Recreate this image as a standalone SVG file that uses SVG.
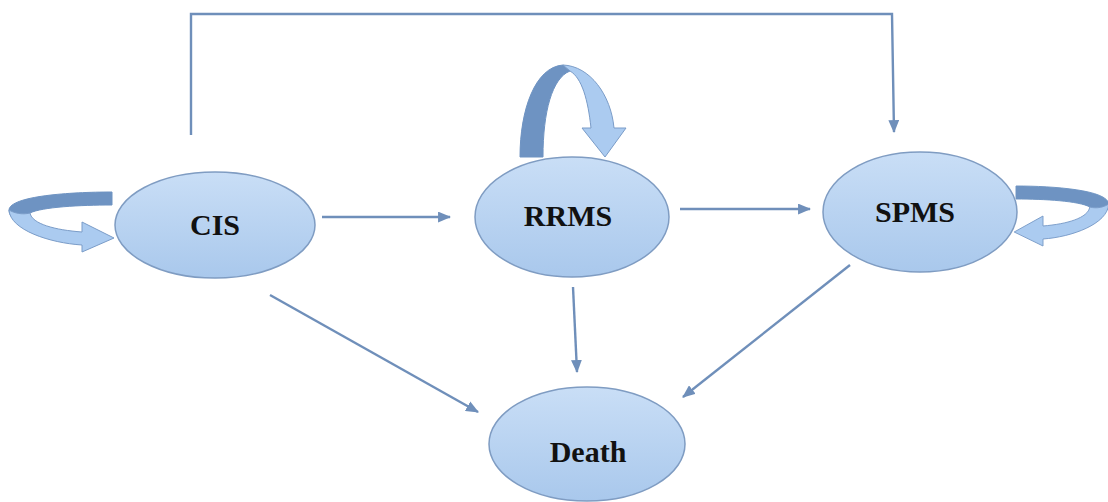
<svg xmlns="http://www.w3.org/2000/svg" width="1108" height="502" viewBox="0 0 1108 502">
<defs>
<linearGradient id="fill" x1="0" y1="0" x2="0" y2="1">
<stop offset="0" stop-color="#c9def6"/>
<stop offset="1" stop-color="#a9c8ec"/>
</linearGradient>
<marker id="ah" viewBox="0 0 12 10" refX="11" refY="5" markerWidth="13" markerHeight="11" markerUnits="userSpaceOnUse" orient="auto">
<path d="M0,0 L12,5 L0,10 Z" fill="#6f8fba"/>
</marker>
</defs>
<style>
.node ellipse{fill:url(#fill);stroke:#7f9cc2;stroke-width:1.5}
.node text{font-family:"Liberation Serif","Times New Roman",serif;font-weight:bold;font-size:30px;fill:#111;text-anchor:middle}
.conn{fill:none;stroke:#6f8fba;stroke-width:2.4}
.dark{fill:#6e93c2;stroke:#6e93c2;stroke-width:1}
.light{fill:#abcbf0;stroke:#7a9cc8;stroke-width:1}
</style>
<g id="connectors">
<path class="conn" d="M191,135 L191,14 L892,14 L894,132" marker-end="url(#ah)"/>
<path class="conn" d="M322,217 L450,217" marker-end="url(#ah)"/>
<path class="conn" d="M680,209 L810,209" marker-end="url(#ah)"/>
<path class="conn" d="M573,287 L577,372" marker-end="url(#ah)"/>
<path class="conn" d="M270,295 L478,412" marker-end="url(#ah)"/>
<path class="conn" d="M850,265 L683,397" marker-end="url(#ah)"/>
</g>
<g id="loop-cis">
<path class="dark" d="M112,192 C70,192 10,196 9,210 C9,216 14,220 22,223 L36,222 C28,219 26,216 30,213 C42,207 80,205 112,205 Z"/>
<path class="light" d="M9,210 C10,230 50,243 82,245 L82,252 L114,238 L82,222 L82,232 C55,230 32,224 30,213 C22,215 14,213 9,210 Z"/>
</g>
<g id="loop-rrms">
<path class="dark" d="M520,157 C520,110 535,67 563,65 L570,71 C552,78 543,112 543,157 Z"/>
<path class="light" d="M563,65 C590,66 611,95 614,128 L626,128 L605,157 L582,128 L591,128 C588,100 582,78 570,71 Z"/>
</g>
<g id="loop-spms" transform="translate(1116.8,-6) scale(-0.9,1)">
<path class="dark" d="M112,192 C70,192 10,196 9,210 C9,216 14,220 22,223 L36,222 C28,219 26,216 30,213 C42,207 80,205 112,205 Z"/>
<path class="light" d="M9,210 C10,230 50,243 82,245 L82,252 L114,238 L82,222 L82,232 C55,230 32,224 30,213 C22,215 14,213 9,210 Z"/>
</g>
<g id="node-cis" class="node">
<ellipse cx="215" cy="225" rx="100" ry="53"/>
<text x="215" y="235">CIS</text>
</g>
<g id="node-rrms" class="node">
<ellipse cx="572" cy="217" rx="97" ry="60"/>
<text x="568" y="226">RRMS</text>
</g>
<g id="node-spms" class="node">
<ellipse cx="920" cy="212" rx="97" ry="60"/>
<text x="915" y="222">SPMS</text>
</g>
<g id="node-death" class="node">
<ellipse cx="587" cy="444" rx="98" ry="57"/>
<text x="588" y="462">Death</text>
</g>
</svg>
